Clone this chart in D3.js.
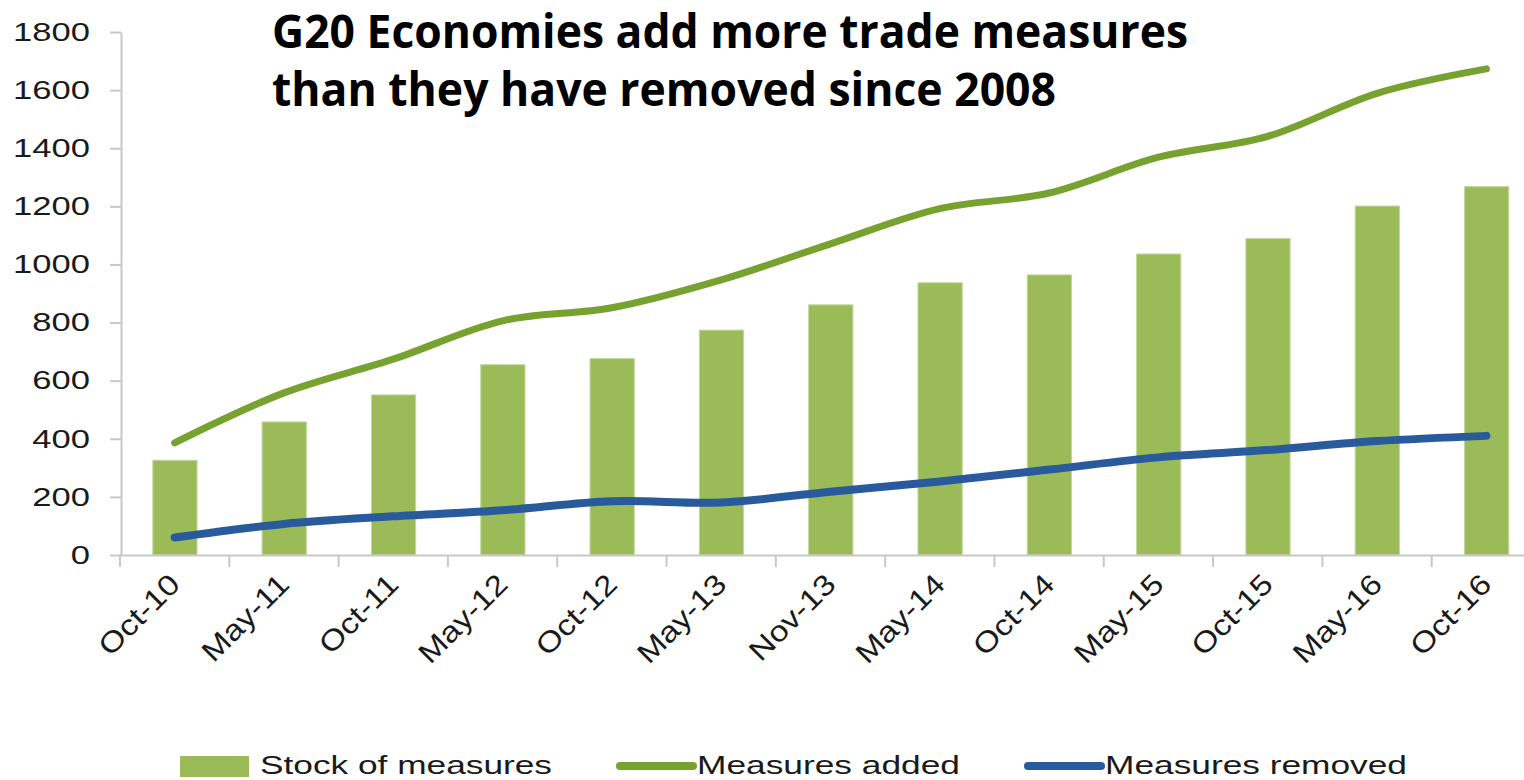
<!DOCTYPE html>
<html>
<head>
<meta charset="utf-8">
<script src="https://cdn.jsdelivr.net/npm/d3@7"></script>
<style>
  body { margin: 0; background: #fff; }
  svg { display: block; }
</style>
</head>
<body>
<svg id="chart"></svg>
<script>
const WIDTH = 1524;
const HEIGHT = 780;

const categories = ['Oct-10', 'May-11', 'Oct-11', 'May-12', 'Oct-12', 'May-13', 'Nov-13',
    'May-14', 'Oct-14', 'May-15', 'Oct-15', 'May-16', 'Oct-16'];
const stockOfMeasures = [326, 458, 551, 655, 676, 774, 861, 937, 964, 1036, 1089, 1201, 1268];
const measuresAdded = [386, 558, 674, 806, 851, 947, 1071, 1192, 1246, 1369, 1441, 1589, 1673];
const measuresRemoved = [60, 107, 133, 154, 185, 181, 218, 253, 294, 336, 361, 392, 410];
const yTicks = [0, 200, 400, 600, 800, 1000, 1200, 1400, 1600, 1800];
const titleLines = ['G20 Economies add more trade measures', 'than they have removed since 2008'];

const BAR = '#9bbb59';
const ADDED = '#77a22f';
const REMOVED = '#295b9c';
const AXIS = '#c8c8c8';

const svg = d3.select('#chart')
    .attr('width', WIDTH)
    .attr('height', HEIGHT)
    .attr('viewBox', [0, 0, WIDTH, HEIGHT]);

const x = d3.scaleBand()
    .domain(categories)
    .range([120, 1541])
    .padding(0);

const y = d3.scaleLinear()
    .domain([0, 1800])
    .range([555, 32]);

const font = 'Liberation Sans, Arial, sans-serif';

// the source image is stretched horizontally, so widen the texts too
function stretch(sel, k) {
    sel.each(function () {
        const len = this.getComputedTextLength();
        d3.select(this)
            .attr('textLength', len * k)
            .attr('lengthAdjust', 'spacingAndGlyphs');
    });
}

// bars
svg.append('g')
    .selectAll('rect')
    .data(stockOfMeasures)
    .join('rect')
        .attr('x', (d, i) => x(categories[i]) + x.bandwidth() * 0.3)
        .attr('width', x.bandwidth() * 0.405)
        .attr('y', d => y(d))
        .attr('height', d => y(0) - y(d))
        .attr('fill', BAR)
        .attr('stroke', '#c2d9a0')
        .attr('stroke-width', 1);

// y axis
const yAxis = svg.append('g')
    .attr('transform', `translate(${x.range()[0] + 1},0)`)
    .call(d3.axisLeft(y).tickValues(yTicks).tickFormat(d3.format('d'))
        .tickSize(11).tickPadding(20).tickSizeOuter(0));
yAxis.select('.domain').attr('stroke', AXIS).attr('stroke-width', 2);
yAxis.selectAll('.tick line').attr('stroke', AXIS).attr('stroke-width', 2);
yAxis.selectAll('.tick text')
    .attr('font-family', font)
    .attr('font-size', 26)
    .attr('fill', '#1a1a1a')
    .call(stretch, 1.33);

// x axis
const xAxis = svg.append('g')
    .attr('transform', `translate(0,${y(0)})`)
    .call(d3.axisBottom(x).tickSize(0).tickFormat(''));
xAxis.select('.domain').attr('stroke', AXIS).attr('stroke-width', 2);

svg.append('g')
    .selectAll('line')
    .data(categories)
    .join('line')
        .attr('x1', d => x(d))
        .attr('x2', d => x(d))
        .attr('y1', y(0))
        .attr('y2', y(0) + 12)
        .attr('stroke', AXIS)
        .attr('stroke-width', 2);

svg.append('g')
    .selectAll('text')
    .data(categories)
    .join('text')
        .attr('transform', d => `translate(${x(d) + x.bandwidth() / 2 + 7},${y(0) + 31}) rotate(-45)`)
        .attr('text-anchor', 'end')
        .attr('font-family', font)
        .attr('font-size', 29)
        .attr('fill', '#1a1a1a')
        .text(d => d)
        .call(stretch, 1.16);

// lines
const cx = (d, i) => x(categories[i]) + x.bandwidth() / 2;
const line = d3.line()
    .x(cx)
    .y(d => y(d))
    .curve(d3.curveCatmullRom.alpha(0.5));

svg.append('path')
    .datum(measuresAdded)
    .attr('d', line)
    .attr('fill', 'none')
    .attr('stroke', ADDED)
    .attr('stroke-width', 7)
    .attr('stroke-linecap', 'round')
    .attr('stroke-linejoin', 'round');

svg.append('path')
    .datum(measuresRemoved)
    .attr('d', line)
    .attr('fill', 'none')
    .attr('stroke', REMOVED)
    .attr('stroke-width', 8)
    .attr('stroke-linecap', 'round')
    .attr('stroke-linejoin', 'round');

// title
svg.append('g')
    .selectAll('text')
    .data(titleLines)
    .join('text')
        .attr('x', 272)
        .attr('y', (d, i) => 48 + i * 58)
        .attr('font-family', 'Open Sans, Noto Sans, sans-serif')
        .attr('font-weight', 'bold')
        .attr('font-size', 46)
        .attr('fill', '#000')
        .attr('textLength', (d, i) => i === 0 ? 916 : 784)
        .attr('lengthAdjust', 'spacingAndGlyphs')
        .text(d => d);

// legend
const legendItems = [
    { label: 'Stock of measures', type: 'bar', color: BAR, x: 180, width: 292 },
    { label: 'Measures added', type: 'line', color: ADDED, x: 617, width: 263 },
    { label: 'Measures removed', type: 'line', color: REMOVED, x: 1025, width: 302 },
];
const legendY = 766;
const legend = svg.append('g')
    .selectAll('g')
    .data(legendItems)
    .join('g')
        .attr('transform', d => `translate(${d.x},${legendY})`);

legend.filter(d => d.type === 'bar')
    .append('rect')
        .attr('x', 0)
        .attr('y', -10)
        .attr('width', 69)
        .attr('height', 21)
        .attr('fill', d => d.color);

legend.filter(d => d.type === 'line')
    .append('line')
        .attr('x1', 3)
        .attr('x2', 76)
        .attr('y1', 0)
        .attr('y2', 0)
        .attr('stroke', d => d.color)
        .attr('stroke-width', 8)
        .attr('stroke-linecap', 'round');

legend.append('text')
    .attr('x', 80)
    .attr('y', 8)
    .attr('font-family', font)
    .attr('font-size', 25)
    .attr('fill', '#1a1a1a')
    .attr('textLength', d => d.width)
    .attr('lengthAdjust', 'spacingAndGlyphs')
    .text(d => d.label);
</script>
</body>
</html>
